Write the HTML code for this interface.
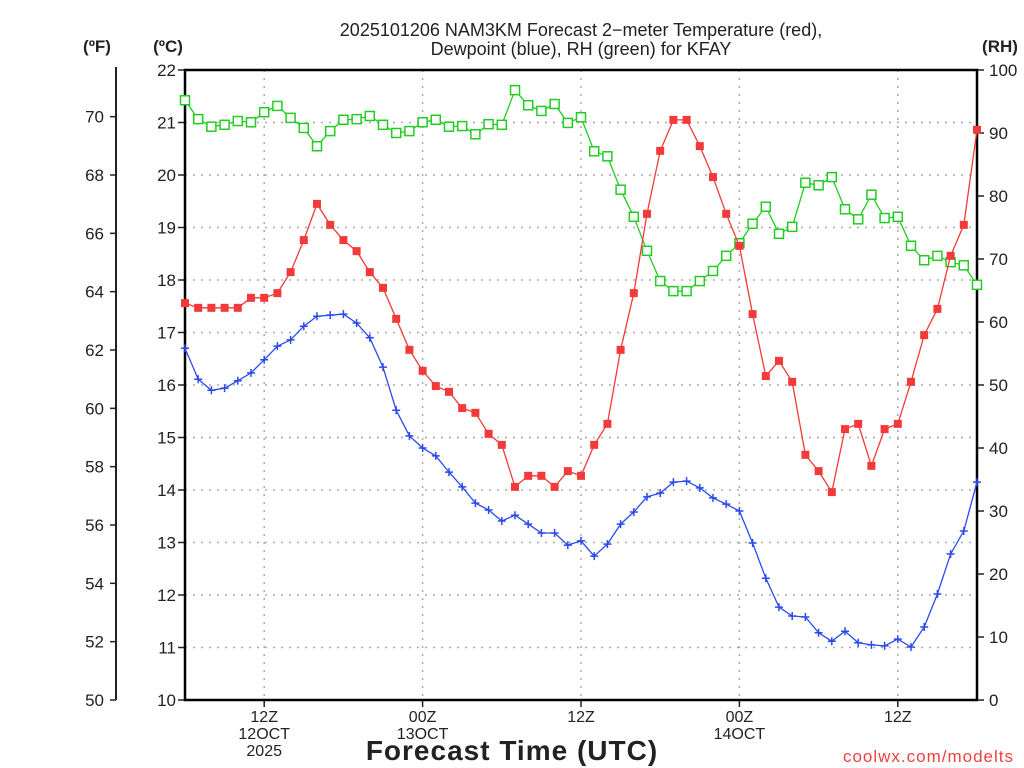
<!DOCTYPE html>
<html><head><meta charset="utf-8"><style>
html,body{margin:0;padding:0;background:#fff;}
svg{display:block;}
text{font-family:"Liberation Sans",sans-serif;fill:#222;}
</style></head><body>
<svg id="chart" width="1024" height="768" viewBox="0 0 1024 768" xmlns="http://www.w3.org/2000/svg">
<text x="581" y="36" font-size="18" text-anchor="middle">2025101206 NAM3KM Forecast 2−meter Temperature (red),</text>
<text x="581" y="55" font-size="18" text-anchor="middle">Dewpoint (blue), RH (green) for KFAY</text>
<text x="97" y="52" font-size="17" font-weight="bold" text-anchor="middle">(ºF)</text>
<text x="168" y="52" font-size="17" font-weight="bold" text-anchor="middle">(ºC)</text>
<text x="1000" y="52" font-size="17" font-weight="bold" text-anchor="middle">(RH)</text>
<text x="512" y="760" font-size="28" text-anchor="middle" font-weight="bold" letter-spacing="1">Forecast Time (UTC)</text>
<text x="1014" y="762" font-size="17" text-anchor="end" style="fill:#f04040" letter-spacing="1">coolwx.com/modelts</text>
<g id="grid"></g><g id="axes"></g><g id="series"></g>
</svg>
<script>
const hours = [];
for (let h = 0; h <= 60; h++) hours.push(h);
const tempC = [17.56,17.47,17.47,17.47,17.47,17.66,17.66,17.75,18.15,18.76,19.45,19.05,18.76,18.55,18.15,17.85,17.26,16.67,16.27,15.98,15.87,15.56,15.47,15.07,14.86,14.06,14.27,14.27,14.06,14.36,14.27,14.86,15.26,16.67,17.75,19.26,20.46,21.05,21.05,20.55,19.96,19.26,18.65,17.35,16.17,16.46,16.06,14.67,14.36,13.96,15.16,15.26,14.46,15.16,15.26,16.06,16.95,17.45,18.46,19.05,20.86];
const dewC = [16.70,16.11,15.90,15.94,16.08,16.23,16.48,16.74,16.86,17.12,17.31,17.33,17.35,17.18,16.90,16.34,15.52,15.03,14.80,14.65,14.34,14.06,13.75,13.62,13.41,13.52,13.35,13.18,13.18,12.95,13.03,12.74,12.97,13.35,13.58,13.87,13.94,14.15,14.17,14.04,13.85,13.73,13.60,12.99,12.32,11.77,11.60,11.58,11.28,11.12,11.31,11.09,11.05,11.03,11.16,11.01,11.39,12.02,12.78,13.22,14.15];
const rh = [95.2,92.2,91.0,91.3,91.9,91.7,93.3,94.3,92.4,90.8,87.9,90.3,92.1,92.2,92.7,91.3,90.0,90.3,91.7,92.1,91.0,91.1,89.8,91.4,91.3,96.8,94.4,93.5,94.6,91.6,92.5,87.1,86.3,81.0,76.7,71.3,66.5,64.9,64.9,66.5,68.1,70.5,72.5,75.6,78.3,74.0,75.1,82.1,81.7,83.0,77.9,76.3,80.2,76.5,76.7,72.1,69.8,70.5,69.5,69.0,65.9];
const cTicks = [10,11,12,13,14,15,16,17,18,19,20,21,22];
const fTicks = [50,52,54,56,58,60,62,64,66,68,70];
const rhTicks = [0,10,20,30,40,50,60,70,80,90,100];
const xTickHours = [6,18,30,42,54];
const xTickLabels = [["12Z","12OCT","2025"],["00Z","13OCT"],["12Z"],["00Z","14OCT"],["12Z"]];

const L=185,R=977,T=70,B=700;
const x = h => L + (R-L)*h/60;
const yC = c => B - (B-T)*(c-10)/12;
const yF = f => yC((f-32)*5/9);
const yRH = v => B - (B-T)*v/100;
const NS="http://www.w3.org/2000/svg";
function mk(tag, attrs, parent){const e=document.createElementNS(NS,tag);for(const k in attrs)e.setAttribute(k,attrs[k]);parent.appendChild(e);return e;}
const grid=document.getElementById('grid'), axes=document.getElementById('axes'), ser=document.getElementById('series');

cTicks.forEach(c=>{
  const l=mk('line',{x1:L,x2:R,y1:yC(c),y2:yC(c),stroke:'#aaa','stroke-width':1.5,'stroke-dasharray':'2 6'},grid);
  
  
  const t=mk('line',{x1:L-7,x2:L,y1:yC(c),y2:yC(c),stroke:'#222','stroke-width':1.5},axes);
  
  
  const tx=mk('text',{x:L-9,y:yC(c)+6,'font-size':17,'text-anchor':'end'},axes);tx.textContent=c;
  
  
});
xTickHours.forEach((h,i)=>{
  const l=mk('line',{x1:x(h),x2:x(h),y1:T,y2:B,stroke:'#aaa','stroke-width':1.5,'stroke-dasharray':'2 6'},grid);
  
  
  const t=mk('line',{x1:x(h),x2:x(h),y1:B,y2:B+7,stroke:'#222','stroke-width':1.5},axes);
  
  
  xTickLabels[i].forEach((s,j)=>{
    const tx=mk('text',{x:x(h),y:B+22+j*17,'font-size':16,'text-anchor':'middle'},axes);tx.textContent=s;
    
    
  });
});
const fa=mk('line',{x1:116,x2:116,y1:67,y2:B,stroke:'#222','stroke-width':2},axes);


fTicks.forEach(f=>{
  const t=mk('line',{x1:110,x2:116,y1:yF(f),y2:yF(f),stroke:'#222','stroke-width':1.5},axes);
  
  
  const tx=mk('text',{x:104,y:yF(f)+6,'font-size':17,'text-anchor':'end'},axes);tx.textContent=f;
  
  
});
rhTicks.forEach(v=>{
  const t=mk('line',{x1:R,x2:R+7,y1:yRH(v),y2:yRH(v),stroke:'#222','stroke-width':1.5},axes);
  
  
  const tx=mk('text',{x:R+12,y:yRH(v)+6,'font-size':17,'text-anchor':'start'},axes);tx.textContent=v;
  
  
});
const frame=mk('rect',{x:L,y:T,width:R-L,height:B-T,fill:'none',stroke:'#000','stroke-width':2.5},axes);



function series(vals, yf, color, name, marker){
  const g=mk('g',{},ser);
  
  
  const pts=vals.map((v,i)=>x(hours[i]).toFixed(1)+','+yf(v).toFixed(1)).join(' ');
  const pl=mk('polyline',{points:pts,fill:'none',stroke:color,'stroke-width':1.3},g);
  
  
  vals.forEach((v,i)=>{
    const cx=x(hours[i]), cy=yf(v);
    let m;
    if(marker==='fill') m=mk('rect',{x:cx-4,y:cy-4,width:8,height:8,fill:color},g);
    else if(marker==='open') m=mk('rect',{x:cx-4.5,y:cy-4.5,width:9,height:9,fill:'#fff',stroke:color,'stroke-width':1.5},g);
    else m=mk('path',{d:`M${cx-4},${cy}H${cx+4}M${cx},${cy-4}V${cy+4}`,stroke:color,'stroke-width':1.5},g);
    
    
  });
}
series(rh, yRH, '#22cc22', 'rh', 'open');
series(tempC, yC, '#f23a3a', 'temperature', 'fill');
series(dewC, yC, '#2a4af0', 'dewpoint', 'plus');
</script>
</body></html>
